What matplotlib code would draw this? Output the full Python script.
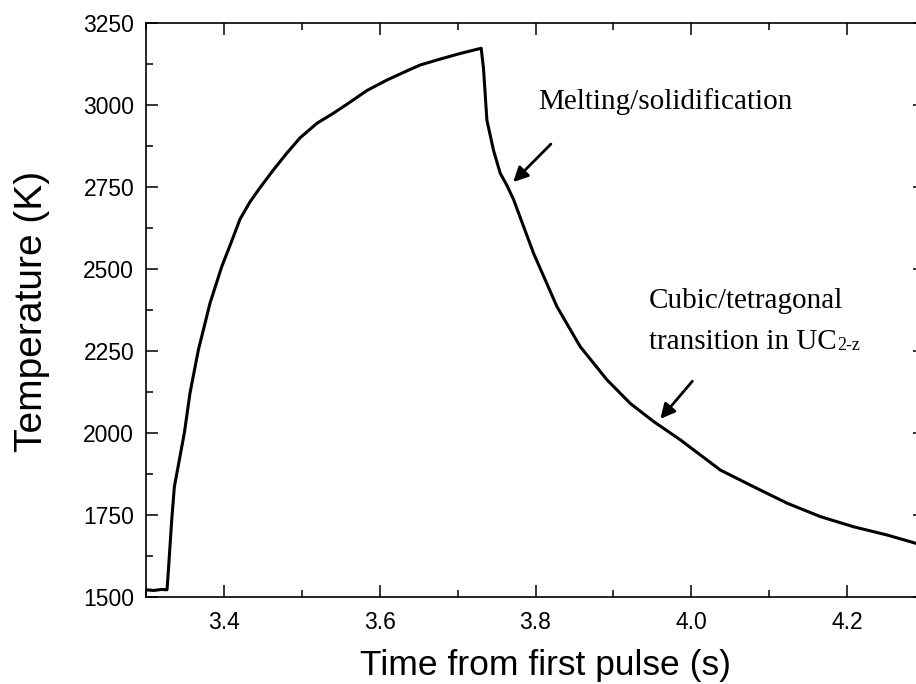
import matplotlib.pyplot as plt
from matplotlib.ticker import MultipleLocator

# temperature trace
time_s = [3.300, 3.310, 3.320, 3.327, 3.329, 3.333, 3.3364, 3.3428, 3.3492, 3.3565,
          3.3672, 3.3822, 3.3972, 3.4079, 3.4207, 3.4336, 3.4464, 3.4635, 3.4807,
          3.4978, 3.5193, 3.5406, 3.5578, 3.5835, 3.6092, 3.6349, 3.6520, 3.6777,
          3.7033, 3.7303, 3.7333, 3.7376, 3.7461, 3.7547, 3.7633, 3.7718, 3.7975,
          3.8276, 3.8575, 3.8918, 3.9217, 3.9516, 3.9860, 4.0373, 4.0801, 4.1230,
          4.1658, 4.2085, 4.2514, 4.2878, 4.300]
temp_K = [1522, 1520, 1523, 1522, 1590, 1735, 1836, 1918, 2000, 2122,
          2253, 2396, 2507, 2572, 2652, 2705, 2748, 2802, 2853,
          2900, 2944, 2975, 3002, 3044, 3076, 3104, 3122, 3140,
          3157, 3173, 3110, 2954, 2862, 2792, 2755, 2712, 2548,
          2385, 2263, 2162, 2090, 2035, 1979, 1887, 1836, 1786,
          1745, 1714, 1689, 1664, 1656]

plt.rcParams['font.family'] = ['Liberation Sans', 'DejaVu Sans']

fig = plt.figure(figsize=(9.16, 6.84), dpi=100)
ax = fig.add_axes([146/916, 1 - 597/684, 779/916, 574/684])

ax.plot(time_s, temp_K, color='black', lw=2.2, solid_joinstyle='round')

ax.set_xlim(3.3, 4.3)
ax.set_ylim(1500, 3250)
ax.xaxis.set_major_locator(MultipleLocator(0.2))
ax.xaxis.set_minor_locator(MultipleLocator(0.1))
ax.yaxis.set_major_locator(MultipleLocator(250))
ax.yaxis.set_minor_locator(MultipleLocator(125))
ax.set_xticks([3.4, 3.6, 3.8, 4.0, 4.2])
ax.set_xticklabels(['3.4', '3.6', '3.8', '4.0', '4.2'])

ax.tick_params(which='both', direction='in', top=True, right=True, width=1.1)
ax.tick_params(which='major', length=8.5, labelsize=16.5)
ax.tick_params(axis='y', which='major', pad=8.5)
ax.tick_params(axis='x', which='major', pad=10)
ax.tick_params(which='minor', length=5)
for s in ax.spines.values():
    s.set_linewidth(1.2)

ax.set_xlabel('Time from first pulse (s)', fontsize=25.5)
ax.set_ylabel('Temperature (K)', fontsize=28)
ax.xaxis.set_label_coords(0.513, -0.09)
ax.yaxis.set_label_coords(-0.123, 0.497)

serif = ['Liberation Serif', 'DejaVu Serif']
ax.text(3.8035, 2988, 'Melting/solidification', family=serif, fontsize=21, va='baseline')
ax.text(3.9452, 2381, 'Cubic/tetragonal', family=serif, fontsize=21, va='baseline')
t = ax.text(3.9452, 2256, 'transition in UC', family=serif, fontsize=21, va='baseline')
ax.annotate('2-z', xy=(1, 0), xycoords=t, xytext=(0.5, 3.5), textcoords='offset points',
            family=serif, fontsize=13, va='baseline')

arrow = dict(arrowstyle='-|>', color='black', lw=2, mutation_scale=22, shrinkA=0, shrinkB=0)
ax.annotate('', xy=(3.7714, 2765), xytext=(3.8198, 2881), arrowprops=arrow)
ax.annotate('', xy=(3.9602, 2043), xytext=(4.0014, 2158), arrowprops=arrow)

fig.savefig('out.png', dpi=100)
